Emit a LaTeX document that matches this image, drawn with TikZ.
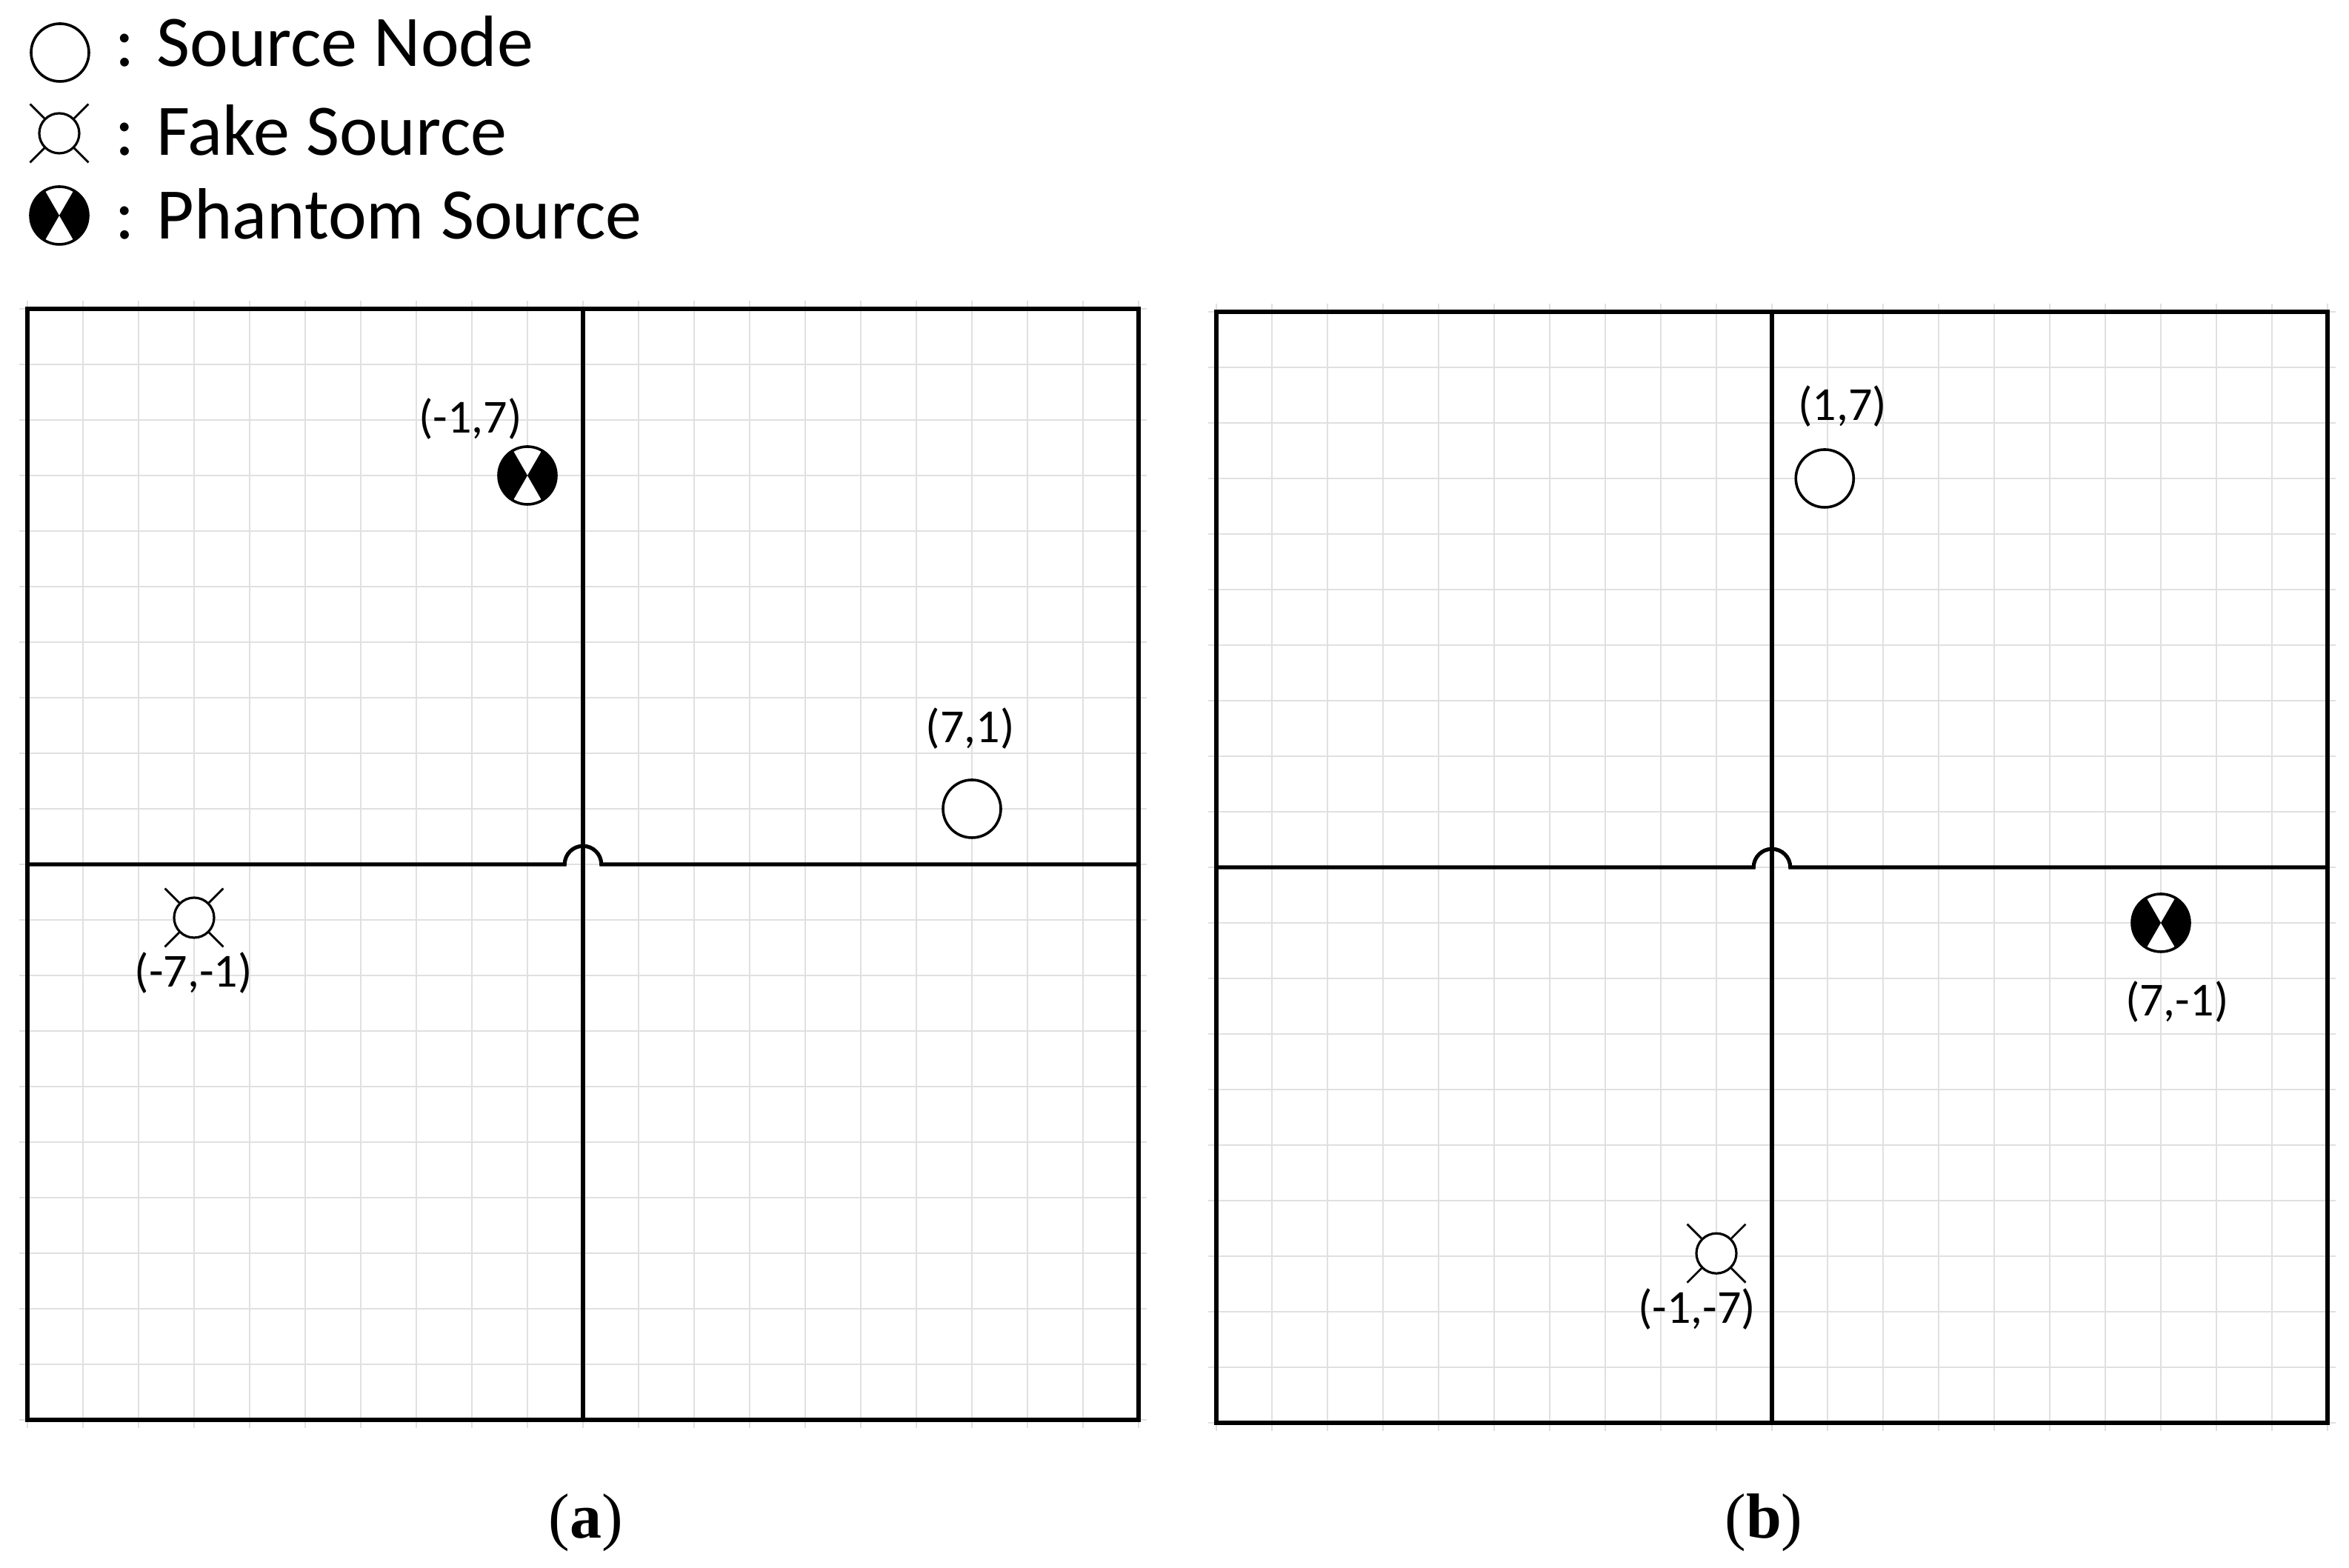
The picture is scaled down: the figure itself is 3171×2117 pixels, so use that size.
\documentclass[tikz,border=0pt]{standalone}
\usepackage{fontspec}
\setmainfont{Carlito}
\newfontfamily\capfont{Liberation Serif}
\newcommand{\fakelegs}[1]{%
  \draw[line width=0.7pt] (#1.north east) -- ++(45:6.8pt)
    (#1.north west) -- ++(135:6.8pt)
    (#1.south west) -- ++(225:6.8pt)
    (#1.south east) -- ++(-45:6.8pt);}
\begin{document}
\begin{tikzpicture}[x=0.25pt,y=0.25pt,
  gridline/.style={line width=0.7pt, draw=black!12},
  frame/.style={line width=1.3pt, draw=black},
  srcnode/.style={circle, draw=black, line width=0.9pt, fill=white, inner sep=0pt, minimum size=19.5pt},
  fakenode/.style={circle, draw=black, line width=0.8pt, fill=white, inner sep=0pt, minimum size=13.5pt},
  phnode/.style={srcnode, path picture={
      \fill[black] (path picture bounding box.center) -- ++(60:12pt) arc[start angle=60,end angle=-60,radius=12pt] -- cycle;
      \fill[black] (path picture bounding box.center) -- ++(120:12pt) arc[start angle=120,end angle=240,radius=12pt] -- cycle;}},
  coordlabel/.style={anchor=base, inner sep=0pt, font=\fontsize{16}{19}\selectfont},
  legtext/.style={anchor=base west, inner sep=0pt, font=\fontsize{24.5}{29}\selectfont},
  captext/.style={anchor=base, inner sep=0pt, font=\capfont\fontsize{21.5}{26}\selectfont}
]
\useasboundingbox[fill=white] (0,0) rectangle (3171,2117);

% ---------- legend ----------
\node[srcnode] (lsrc) at (81,2046) {};
\node[legtext] (lsrct) at (155,2027) {: Source Node};
\node[fakenode] (lfake) at (80,1937) {};
\fakelegs{lfake}
\node[legtext] (lfaket) at (155,1907) {: Fake Source};
\node[phnode] (lph) at (80,1826) {};
\node[legtext] (lpht) at (155,1794) {: Phantom Source};

% ---------- panel (a) ----------
\begin{scope}[shift={(787,950)}, x=18.75pt, y=18.75pt]
  \foreach \i in {-10,...,10} {
    \draw[gridline] (\i,-10.15) -- (\i,10.15);
    \draw[gridline] (-10.15,\i) -- (10.15,\i);
  }
  \draw[frame] (-10,-10) rectangle (10,10);
  \draw[frame] (0,-10) -- (0,10);
  \draw[frame] (-10,0) -- (-0.33,0) arc[start angle=180, end angle=0, radius=0.33] -- (10,0);
  \node[phnode] (pa) at (-1,7) {};
  \node[coordlabel] (pal) at (-2.03,7.76) {(-1,7)};
  \node[srcnode] (sa) at (7,1) {};
  \node[coordlabel] (sal) at (6.97,2.19) {(7,1)};
  \node[fakenode] (fa) at (-7,-0.96) {};
  \fakelegs{fa}
  \node[coordlabel] (fal) at (-7.01,-2.21) {(-7,-1)};
\end{scope}

% ---------- panel (b) ----------
\begin{scope}[shift={(2392,946)}, x=18.75pt, y=18.75pt]
  \foreach \i in {-10,...,10} {
    \draw[gridline] (\i,-10.15) -- (\i,10.15);
    \draw[gridline] (-10.15,\i) -- (10.15,\i);
  }
  \draw[frame] (-10,-10) rectangle (10,10);
  \draw[frame] (0,-10) -- (0,10);
  \draw[frame] (-10,0) -- (-0.33,0) arc[start angle=180, end angle=0, radius=0.33] -- (10,0);
  \node[srcnode] (sb) at (0.95,7) {};
  \node[coordlabel] (sbl) at (1.27,8.04) {(1,7)};
  \node[phnode] (pb) at (7,-1) {};
  \node[coordlabel] (pbl) at (7.29,-2.68) {(7,-1)};
  \node[fakenode] (fb) at (-1,-6.95) {};
  \fakelegs{fb}
  \node[coordlabel] (fbl) at (-1.35,-8.21) {(-1,-7)};
\end{scope}

% ---------- captions ----------
\node[captext] (capa) at (791,40) {(\textbf{a})};
\node[captext] (capb) at (2381,40) {(\textbf{b})};
\end{tikzpicture}
\end{document}
